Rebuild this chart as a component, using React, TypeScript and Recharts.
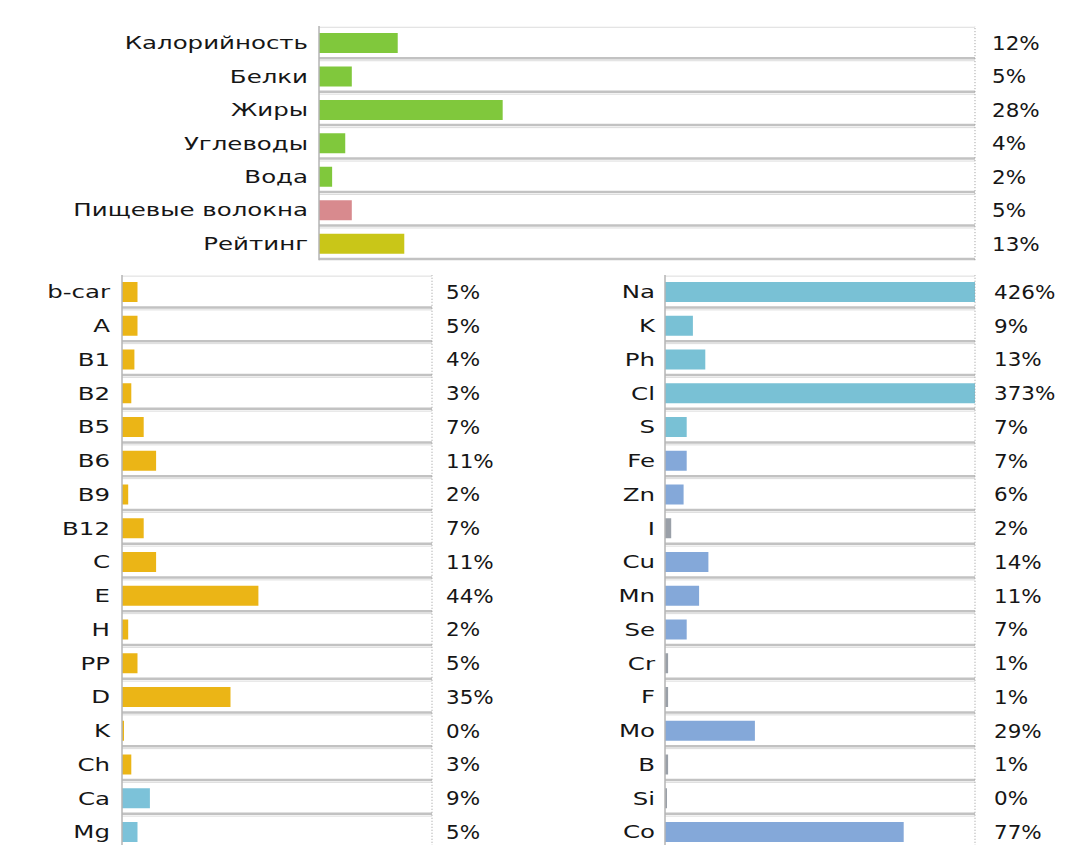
import React from 'react';
import { BarChart, Bar, XAxis, YAxis, Cell, LabelList, ReferenceLine } from 'recharts';

// top block: basic nutrients
const mainNames = ['Калорийность', 'Белки', 'Жиры', 'Углеводы', 'Вода', 'Пищевые волокна', 'Рейтинг'];
const mainValues = [12, 5, 28, 4, 2, 5, 13];
const mainColors = ['#80c83c', '#80c83c', '#80c83c', '#80c83c', '#80c83c', '#d88a8e', '#c9c618'];

// bottom left: vitamins (+ Ca, Mg)
const vitNames = ['b-car', 'A', 'B1', 'B2', 'B5', 'B6', 'B9', 'B12', 'C', 'E', 'H', 'PP', 'D', 'K', 'Ch', 'Ca', 'Mg'];
const vitValues = [5, 5, 4, 3, 7, 11, 2, 7, 11, 44, 2, 5, 35, 0, 3, 9, 5];

// bottom right: minerals
const minNames = ['Na', 'K', 'Ph', 'Cl', 'S', 'Fe', 'Zn', 'I', 'Cu', 'Mn', 'Se', 'Cr', 'F', 'Mo', 'B', 'Si', 'Co'];
const minValues = [426, 9, 13, 373, 7, 7, 6, 2, 14, 11, 7, 1, 1, 29, 1, 0, 77];

const VIT = '#ebb516';
const CAMG = '#7cc2d9';
const LIGHT = '#79c1d5';
const STEEL = '#84a8d9';
const GREY = '#9aa0a8';
const vitColors = vitNames.map((n) => (n === 'Ca' || n === 'Mg' ? CAMG : VIT));
const minColors = minNames.map((n) => {
  if (['Na', 'K', 'Ph', 'Cl', 'S'].includes(n)) return LIGHT;
  if (['I', 'Cr', 'F', 'B', 'Si'].includes(n)) return GREY;
  return STEEL;
});

const FONT = '"DejaVu Sans", Verdana, sans-serif';

const build = (names: string[], values: number[]) => names.map((name, i) => ({ name, value: values[i] }));

const NameTick = (props: any) => {
  const { x, y, payload } = props;
  return (
    <g transform={`translate(${x},${y}) scale(1.36,1)`}>
      <text x={0} y={0} dy="0.36em" textAnchor="end" fill="#161616" fontSize={18} fontFamily={FONT}>
        {payload.value}
      </text>
    </g>
  );
};

const makeTrack = (band: number, barSize: number) => (props: any) => {
  const { x, y, width } = props;
  const top = y - (band - barSize) / 2;
  return (
    <g>
      <rect x={x} y={top + 1} width={width} height={band - 2} fill="#ffffff" />
      <line x1={x} x2={x + width} y1={top + 1} y2={top + 1} stroke="#dcdcdc" strokeWidth={1} />
      <line x1={x} x2={x + width} y1={top + band - 1.5} y2={top + band - 1.5} stroke="#c2c2c2" strokeWidth={2.5} />
    </g>
  );
};

const makeValueLabel = (plotRight: number, gap: number) => (props: any) => {
  const { y, height, value } = props;
  return (
    <g transform={`translate(${plotRight + gap},${y + height / 2}) scale(1.13,1)`}>
      <text x={0} y={0} dy="0.36em" fill="#161616" fontSize={19} fontFamily={FONT}>
        {`${value ?? 0}%`}
      </text>
    </g>
  );
};

interface PanelProps {
  names: string[];
  values: number[];
  colors: string[];
  left: number;
  top: number;
  width: number;
  height: number;
  axisWidth: number;
  marginTop: number;
  marginRight: number;
  marginBottom: number;
  band: number;
  labelGap: number;
  valueGap: number;
}

const Panel = (p: PanelProps) => {
  const data = build(p.names, p.values);
  const barSize = 20;
  const plotRight = p.width - p.marginRight;
  return (
    <div style={{ position: 'absolute', left: p.left, top: p.top }}>
      <BarChart
        layout="vertical"
        width={p.width}
        height={p.height}
        data={data}
        margin={{ top: p.marginTop, right: p.marginRight, bottom: p.marginBottom, left: 0 }}
      >
        <XAxis type="number" domain={[0, 100]} allowDataOverflow hide />
        <YAxis
          type="category"
          dataKey="name"
          width={p.axisWidth}
          tickLine={false}
          tickSize={0}
          tickMargin={p.labelGap}
          axisLine={{ stroke: '#b4b4b4', strokeWidth: 1.5 }}
          tick={<NameTick />}
          interval={0}
        />
        <Bar
          dataKey="value"
          barSize={barSize}
          minPointSize={2}
          isAnimationActive={false}
          background={makeTrack(p.band, barSize)}
        >
          {data.map((d, i) => (
            <Cell key={d.name + i} fill={p.colors[i]} />
          ))}
          <LabelList dataKey="value" content={makeValueLabel(plotRight, p.valueGap)} />
        </Bar>
        <ReferenceLine x={100} stroke="#9a9a9a" strokeDasharray="1 2" strokeWidth={1} ifOverflow="visible" />
      </BarChart>
    </div>
  );
};

export default function App() {
  const bottomBand = 33.75;
  const bottomPlotH = bottomBand * 17;
  const topBand = 33.45;
  return (
    <div style={{ position: 'absolute', left: 0, top: 0, width: 1080, height: 845, overflow: 'hidden', background: '#ffffff' }}>
      <Panel
        names={mainNames}
        values={mainValues}
        colors={mainColors}
        left={0}
        top={0}
        width={1080}
        height={26 + topBand * 7 + 6}
        axisWidth={319}
        marginTop={26}
        marginRight={105}
        marginBottom={6}
        band={topBand}
        labelGap={11}
        valueGap={17}
      />
      <Panel
        names={vitNames}
        values={vitValues}
        colors={vitColors}
        left={0}
        top={265}
        width={540}
        height={10 + bottomPlotH + 6}
        axisWidth={122}
        marginTop={10}
        marginRight={108}
        marginBottom={6}
        band={bottomBand}
        labelGap={12}
        valueGap={14}
      />
      <Panel
        names={minNames}
        values={minValues}
        colors={minColors}
        left={540}
        top={265}
        width={540}
        height={10 + bottomPlotH + 6}
        axisWidth={125}
        marginTop={10}
        marginRight={105}
        marginBottom={6}
        band={bottomBand}
        labelGap={10}
        valueGap={19}
      />
    </div>
  );
}
